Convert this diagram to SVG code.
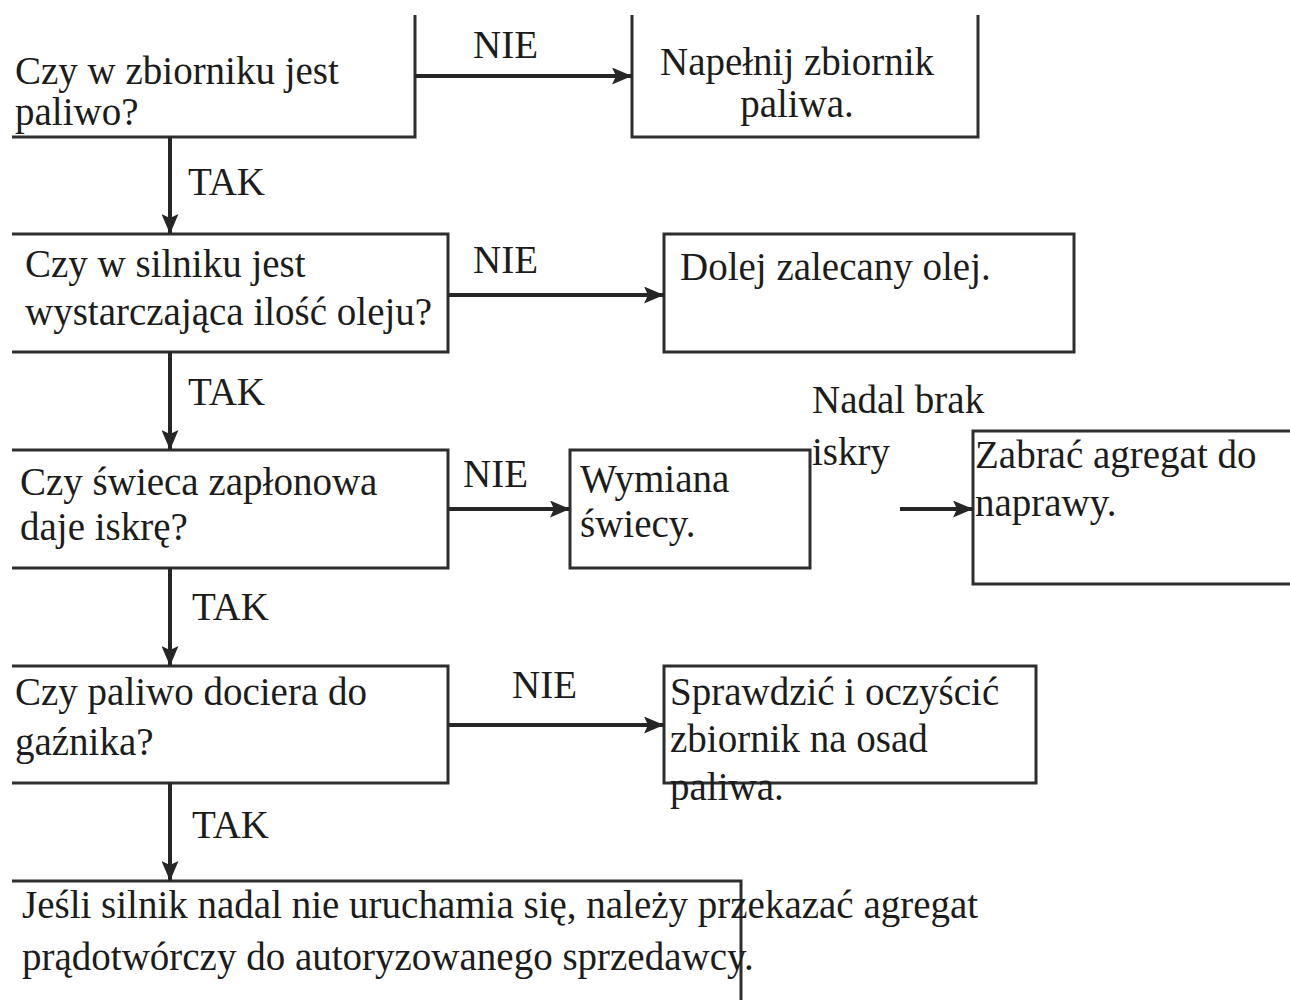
<svg xmlns="http://www.w3.org/2000/svg" width="1290" height="1006" viewBox="0 0 1290 1006">
<style>
  .t { font-family: "Liberation Serif", "Times New Roman", serif; font-size: 39px; fill: #1c1c1c; }
  .b { fill: none; stroke: #2e2e2e; stroke-width: 3; }
  .c { fill: none; stroke: #262626; stroke-width: 4; }
</style>
<defs>
  <marker id="ah" viewBox="0 0 20 17" refX="20" refY="8.5" markerUnits="userSpaceOnUse" markerWidth="20" markerHeight="17" orient="auto">
    <path d="M0,0 L20,8.5 L0,17 L4,8.5 z" fill="#262626"/>
  </marker>
</defs>
<rect x="0" y="0" width="1290" height="1006" fill="#ffffff"/>

<g id="q1">
  <path class="b" d="M415,15 V137 H12"/>
  <text class="t" x="15" y="84">Czy w zbiorniku jest</text>
  <text class="t" x="15" y="125">paliwo?</text>
</g>
<g id="a1">
  <path class="b" d="M632,15 V137 H978 V15"/>
  <text class="t" x="797" y="75" text-anchor="middle">Napełnij zbiornik</text>
  <text class="t" x="797" y="117" text-anchor="middle">paliwa.</text>
</g>
<g id="q2">
  <path class="b" d="M12,234 H448 V352 H12"/>
  <text class="t" x="25" y="277">Czy w silniku jest</text>
  <text class="t" x="25" y="325">wystarczająca ilość oleju?</text>
</g>
<g id="a2">
  <rect class="b" x="664" y="234" width="410" height="118"/>
  <text class="t" x="680" y="280">Dolej zalecany olej.</text>
</g>
<g id="q3">
  <path class="b" d="M12,450 H448 V568 H12"/>
  <text class="t" x="20" y="495">Czy świeca zapłonowa</text>
  <text class="t" x="20" y="540">daje iskrę?</text>
</g>
<g id="a3">
  <rect class="b" x="570" y="450" width="240" height="118"/>
  <text class="t" x="580" y="492">Wymiana</text>
  <text class="t" x="580" y="537">świecy.</text>
</g>
<g id="a4">
  <path class="b" d="M1290,431 H973 V584 H1290"/>
  <text class="t" x="975" y="468">Zabrać agregat do</text>
  <text class="t" x="975" y="516">naprawy.</text>
</g>
<g id="q4">
  <path class="b" d="M12,666 H448 V783 H12"/>
  <text class="t" x="15" y="705">Czy paliwo dociera do</text>
  <text class="t" x="15" y="755">gaźnika?</text>
</g>
<g id="a5">
  <rect class="b" x="664" y="666" width="372" height="117"/>
  <text class="t" x="670" y="705">Sprawdzić i oczyścić</text>
  <text class="t" x="670" y="752">zbiornik na osad</text>
  <text class="t" x="670" y="800">paliwa.</text>
</g>
<g id="final">
  <path class="b" d="M12,881 H741 V1000"/>
  <text class="t" x="22" y="918">Jeśli silnik nadal nie uruchamia się, należy przekazać agregat</text>
  <text class="t" x="22" y="970">prądotwórczy do autoryzowanego sprzedawcy.</text>
</g>

<g id="connectors">
  <line class="c" x1="415" y1="76" x2="632" y2="76" marker-end="url(#ah)"/>
  <line class="c" x1="170" y1="137" x2="170" y2="234" marker-end="url(#ah)"/>
  <line class="c" x1="448" y1="295" x2="664" y2="295" marker-end="url(#ah)"/>
  <line class="c" x1="170" y1="352" x2="170" y2="450" marker-end="url(#ah)"/>
  <line class="c" x1="448" y1="509" x2="570" y2="509" marker-end="url(#ah)"/>
  <line class="c" x1="900" y1="509" x2="973" y2="509" marker-end="url(#ah)"/>
  <line class="c" x1="170" y1="568" x2="170" y2="666" marker-end="url(#ah)"/>
  <line class="c" x1="448" y1="725" x2="664" y2="725" marker-end="url(#ah)"/>
  <line class="c" x1="170" y1="783" x2="170" y2="881" marker-end="url(#ah)"/>
  <text class="t" x="473" y="58">NIE</text>
  <text class="t" x="188" y="195">TAK</text>
  <text class="t" x="473" y="273">NIE</text>
  <text class="t" x="188" y="405">TAK</text>
  <text class="t" x="463" y="487">NIE</text>
  <text class="t" x="812" y="413">Nadal brak</text>
  <text class="t" x="812" y="465">iskry</text>
  <text class="t" x="192" y="620">TAK</text>
  <text class="t" x="512" y="698">NIE</text>
  <text class="t" x="192" y="838">TAK</text>
</g>
</svg>
